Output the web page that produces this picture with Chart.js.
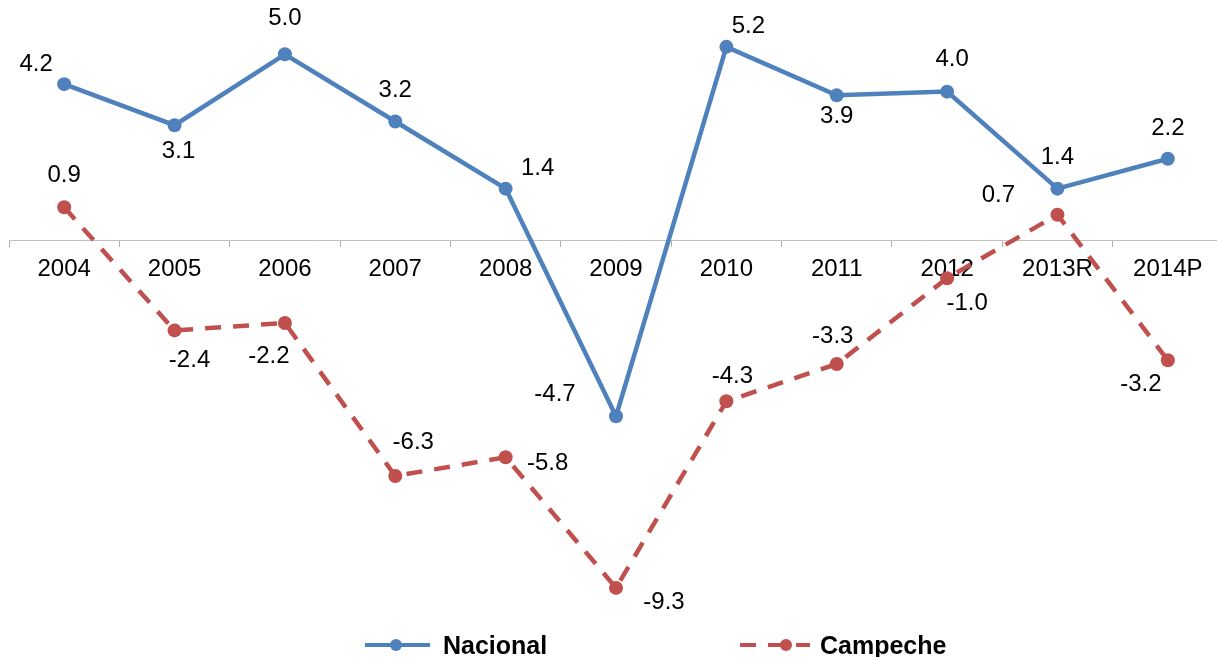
<!DOCTYPE html>
<html>
<head>
  <script type="text/javascript" src="https://cdn.jsdelivr.net/npm/chart.js@4.4.1/dist/chart.umd.min.js"></script>
  <style>
    html, body { margin: 0; padding: 0; overflow: hidden; background: #fff; }
    #wrap { width: 1230px; height: 657px; }
  </style>
</head>
<body>
<div id="wrap">
<canvas id="line-chart" width="1230" height="657"></canvas>
</div>
<script>
  var years = ["2004", "2005", "2006", "2007", "2008", "2009", "2010", "2011", "2012", "2013R", "2014P"];
  var nacional = [4.2, 3.1, 5.0, 3.2, 1.4, -4.7, 5.2, 3.9, 4.0, 1.4, 2.2];
  var campeche = [0.9, -2.4, -2.2, -6.3, -5.8, -9.3, -4.3, -3.3, -1.0, 0.7, -3.2];

  // where each value label sits relative to its point (dx, dy)
  var labelPlace = [
    [[-28,-20],[4,26],[0,-36],[0,-31],[32,-20],[-61,-22],[22,-20],[0,21],[5,-32],[0,-31],[0,-30]],
    [[0,-32],[15,30],[-16,33],[18,-34],[42,6],[48,14],[6,-25],[-4,-28],[20,25],[-59,-19],[-27,24]]
  ];

  var valueLabels = {
    id: 'valueLabels',
    afterDatasetsDraw: function(chart) {
      var ctx = chart.ctx;
      ctx.save();
      ctx.font = '24px "Liberation Sans", Arial, sans-serif';
      ctx.fillStyle = '#000';
      ctx.textAlign = 'center';
      ctx.textBaseline = 'middle';
      chart.data.datasets.forEach(function(ds, i) {
        chart.getDatasetMeta(i).data.forEach(function(pt, j) {
          var off = labelPlace[i][j];
          ctx.fillText(ds.data[j].toFixed(1), pt.x + off[0], pt.y + off[1]);
        });
      });
      ctx.restore();
    }
  };

  var bottomLegend = {
    id: 'bottomLegend',
    afterDraw: function(chart) {
      var ctx = chart.ctx;
      var items = [
        { ds: 0, x1: 365, x2: 430, dot: 396, tx: 443 },
        { ds: 1, x1: 740, x2: 810, dot: 786, tx: 820 }
      ];
      var y = 645;
      ctx.save();
      items.forEach(function(it) {
        var ds = chart.data.datasets[it.ds];
        ctx.strokeStyle = ds.borderColor;
        ctx.lineWidth = 4;
        ctx.setLineDash(ds.borderDash || []);
        ctx.beginPath();
        ctx.moveTo(it.x1, y);
        ctx.lineTo(it.x2, y);
        ctx.stroke();
        ctx.setLineDash([]);
        ctx.fillStyle = ds.borderColor;
        ctx.beginPath();
        ctx.arc(it.dot, y, 6, 0, Math.PI * 2);
        ctx.fill();
        ctx.fillStyle = '#000';
        ctx.font = 'bold 25px "Liberation Sans", Arial, sans-serif';
        ctx.textBaseline = 'middle';
        ctx.textAlign = 'left';
        ctx.fillText(ds.label, it.tx, y + 2);
      });
      ctx.restore();
    }
  };

  var dataPlot = new Chart(document.getElementById("line-chart"), {
    type: 'line',
    data: {
      labels: years,
      datasets: [{
        label: "Nacional",
        data: nacional,
        borderColor: "#4F81BD",
        backgroundColor: "#4F81BD",
        borderWidth: 4.5,
        pointRadius: 7,
        pointHoverRadius: 7,
        pointBorderWidth: 0,
        tension: 0,
        fill: false
      }, {
        label: "Campeche",
        data: campeche,
        borderColor: "#C0504D",
        backgroundColor: "#C0504D",
        borderWidth: 4.5,
        borderDash: [16, 12],
        pointRadius: 7,
        pointHoverRadius: 7,
        pointBorderWidth: 0,
        tension: 0,
        fill: false
      }]
    },
    options: {
      responsive: false,
      animation: false,
      layout: { padding: { left: 9, right: 5, top: 17, bottom: 43 } },
      plugins: {
        legend: { display: false },
        tooltip: { enabled: false }
      },
      scales: {
        x: {
          position: { y: 0 },
          offset: true,
          afterFit: function(s) { s.height = 0; },
          grid: {
            offset: true,
            drawOnChartArea: false,
            drawTicks: true,
            tickLength: 6,
            color: '#b0b0b0'
          },
          border: { display: true, color: '#c0c0c0', width: 1 },
          ticks: {
            color: '#000',
            padding: 8,
            maxRotation: 0,
            autoSkip: false,
            font: { family: '"Liberation Sans", Arial, sans-serif', size: 24 }
          }
        },
        y: {
          display: false,
          min: -10,
          max: 6
        }
      }
    },
    plugins: [valueLabels, bottomLegend]
  });
</script>
</body>
</html>
